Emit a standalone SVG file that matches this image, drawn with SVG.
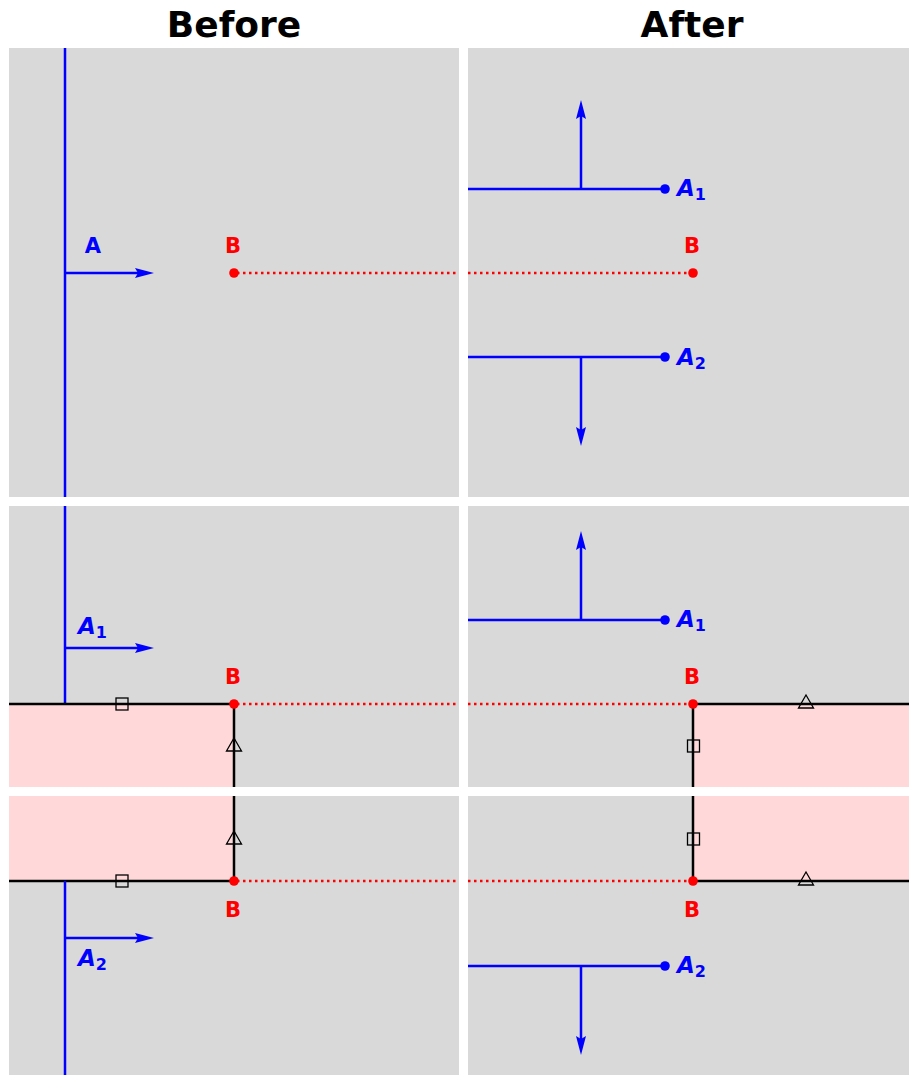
<svg xmlns="http://www.w3.org/2000/svg" width="909" height="1075" viewBox="0 0 909 1075">
<style>
.bg{fill:#d9d9d9}
.pink{fill:#ffd9d9}
.blue{stroke:#0000ff;stroke-width:2.5;fill:none}
.black{stroke:#000;stroke-width:2.5;fill:none}
.dot{stroke:#ff0000;stroke-width:2.5;stroke-dasharray:2.5,3.5;fill:none}
.rdot{fill:#ff0000}
.bdot{fill:#0000ff}
.title{font-family:"DejaVu Sans",sans-serif;font-weight:bold;font-size:36px;fill:#000;text-anchor:middle}
.lb{font-family:"DejaVu Sans",sans-serif;font-weight:bold;font-size:21px;fill:#ff0000;text-anchor:middle}
.la{font-family:"DejaVu Sans",sans-serif;font-weight:bold;font-size:21px;fill:#0000ff}
.li{font-family:"DejaVu Sans",sans-serif;font-weight:bold;font-style:italic;font-size:23px;fill:#0000ff}
.sub{font-style:normal;font-size:16px}
.mk{fill:none;stroke:#000;stroke-width:1.3}
</style>
<defs>
<marker id="ah" viewBox="0 0 19 11" refX="8" refY="5.5" markerWidth="19" markerHeight="11" markerUnits="userSpaceOnUse" orient="auto">
<path d="M0,0.5 L19,5.5 L0,10.5 L3,5.5 Z" fill="#0000ff"/>
</marker>
</defs>
<rect width="909" height="1075" fill="#fff"/>
<text class="title" x="234" y="37">Before</text>
<text class="title" x="692" y="37">After</text>

<g id="panel-top-left">
<rect class="bg" x="9" y="48" width="450" height="449"/>
</g>
<g id="panel-top-right">
<rect class="bg" x="468" y="48" width="441" height="449"/>
</g>
<g id="panel-bl-upper">
<rect class="bg" x="9" y="506" width="450" height="281"/>
<rect class="pink" x="9" y="704" width="225" height="83"/>
</g>
<g id="panel-bl-lower">
<rect class="bg" x="9" y="796" width="450" height="279"/>
<rect class="pink" x="9" y="796" width="225" height="85"/>
</g>
<g id="panel-br-upper">
<rect class="bg" x="468" y="506" width="441" height="281"/>
<rect class="pink" x="693" y="704" width="216" height="83"/>
</g>
<g id="panel-br-lower">
<rect class="bg" x="468" y="796" width="441" height="279"/>
<rect class="pink" x="693" y="796" width="216" height="85"/>
</g>

<g id="connectors">
<line class="blue" x1="65" y1="48" x2="65" y2="497"/>
<line class="blue" x1="65" y1="273" x2="143" y2="273" marker-end="url(#ah)"/>
<line class="dot" x1="237" y1="273" x2="459" y2="273"/>
<line class="dot" x1="468" y1="273" x2="691" y2="273"/>
<line class="blue" x1="468" y1="189" x2="665" y2="189"/>
<line class="blue" x1="581" y1="189" x2="581" y2="111" marker-end="url(#ah)"/>
<line class="blue" x1="468" y1="357" x2="665" y2="357"/>
<line class="blue" x1="581" y1="357" x2="581" y2="435" marker-end="url(#ah)"/>
<line class="blue" x1="65" y1="506" x2="65" y2="704"/>
<line class="blue" x1="65" y1="648" x2="143" y2="648" marker-end="url(#ah)"/>
<polyline class="black" points="9,704 234,704 234,787"/>
<line class="dot" x1="237" y1="704" x2="459" y2="704"/>
<line class="dot" x1="468" y1="704" x2="691" y2="704"/>
<line class="blue" x1="468" y1="620" x2="665" y2="620"/>
<line class="blue" x1="581" y1="620" x2="581" y2="542" marker-end="url(#ah)"/>
<polyline class="black" points="909,704 693,704 693,787"/>
<polyline class="black" points="9,881 234,881 234,796"/>
<line class="dot" x1="237" y1="881" x2="459" y2="881"/>
<line class="blue" x1="65" y1="881" x2="65" y2="1075"/>
<line class="blue" x1="65" y1="938" x2="143" y2="938" marker-end="url(#ah)"/>
<line class="dot" x1="468" y1="881" x2="691" y2="881"/>
<polyline class="black" points="909,881 693,881 693,796"/>
<line class="blue" x1="468" y1="966" x2="665" y2="966"/>
<line class="blue" x1="581" y1="966" x2="581" y2="1044" marker-end="url(#ah)"/>
</g>

<g id="node-A-top">
<text class="la" x="93" y="253" text-anchor="middle">A</text>
</g>
<g id="node-B-top-left">
<circle class="rdot" cx="234" cy="273" r="4.8"/>
<text class="lb" x="233" y="253">B</text>
</g>
<g id="node-B-top-right">
<circle class="rdot" cx="693" cy="273" r="4.8"/>
<text class="lb" x="692" y="253">B</text>
</g>
<g id="node-A1-top-right">
<circle class="bdot" cx="665" cy="189" r="4.8"/>
<text class="li" x="677" y="196">A<tspan class="sub" dy="4">1</tspan></text>
</g>
<g id="node-A2-top-right">
<circle class="bdot" cx="665" cy="357" r="4.8"/>
<text class="li" x="677" y="365">A<tspan class="sub" dy="4">2</tspan></text>
</g>
<g id="node-A1-bl">
<text class="li" x="78" y="634">A<tspan class="sub" dy="4">1</tspan></text>
</g>
<g id="node-B-bl-upper">
<circle class="rdot" cx="234" cy="704" r="4.8"/>
<text class="lb" x="233" y="684">B</text>
<rect class="mk" x="116" y="698" width="12" height="12"/>
<polygon class="mk" points="234,738 241.5,751 226.5,751"/>
</g>
<g id="node-A1-br">
<circle class="bdot" cx="665" cy="620" r="4.8"/>
<text class="li" x="677" y="627">A<tspan class="sub" dy="4">1</tspan></text>
</g>
<g id="node-B-br-upper">
<circle class="rdot" cx="693" cy="704" r="4.8"/>
<text class="lb" x="692" y="684">B</text>
<polygon class="mk" points="806,695 813.5,708 798.5,708"/>
<rect class="mk" x="687.5" y="740" width="12" height="12"/>
</g>
<g id="node-B-bl-lower">
<circle class="rdot" cx="234" cy="881" r="4.8"/>
<text class="lb" x="233" y="917">B</text>
<rect class="mk" x="116" y="875" width="12" height="12"/>
<polygon class="mk" points="234,831 241.5,844 226.5,844"/>
</g>
<g id="node-A2-bl">
<text class="li" x="78" y="966">A<tspan class="sub" dy="4">2</tspan></text>
</g>
<g id="node-B-br-lower">
<circle class="rdot" cx="693" cy="881" r="4.8"/>
<text class="lb" x="692" y="917">B</text>
<rect class="mk" x="687.5" y="833" width="12" height="12"/>
<polygon class="mk" points="806,872 813.5,885 798.5,885"/>
</g>
<g id="node-A2-br">
<circle class="bdot" cx="665" cy="966" r="4.8"/>
<text class="li" x="677" y="973">A<tspan class="sub" dy="4">2</tspan></text>
</g>
</svg>
